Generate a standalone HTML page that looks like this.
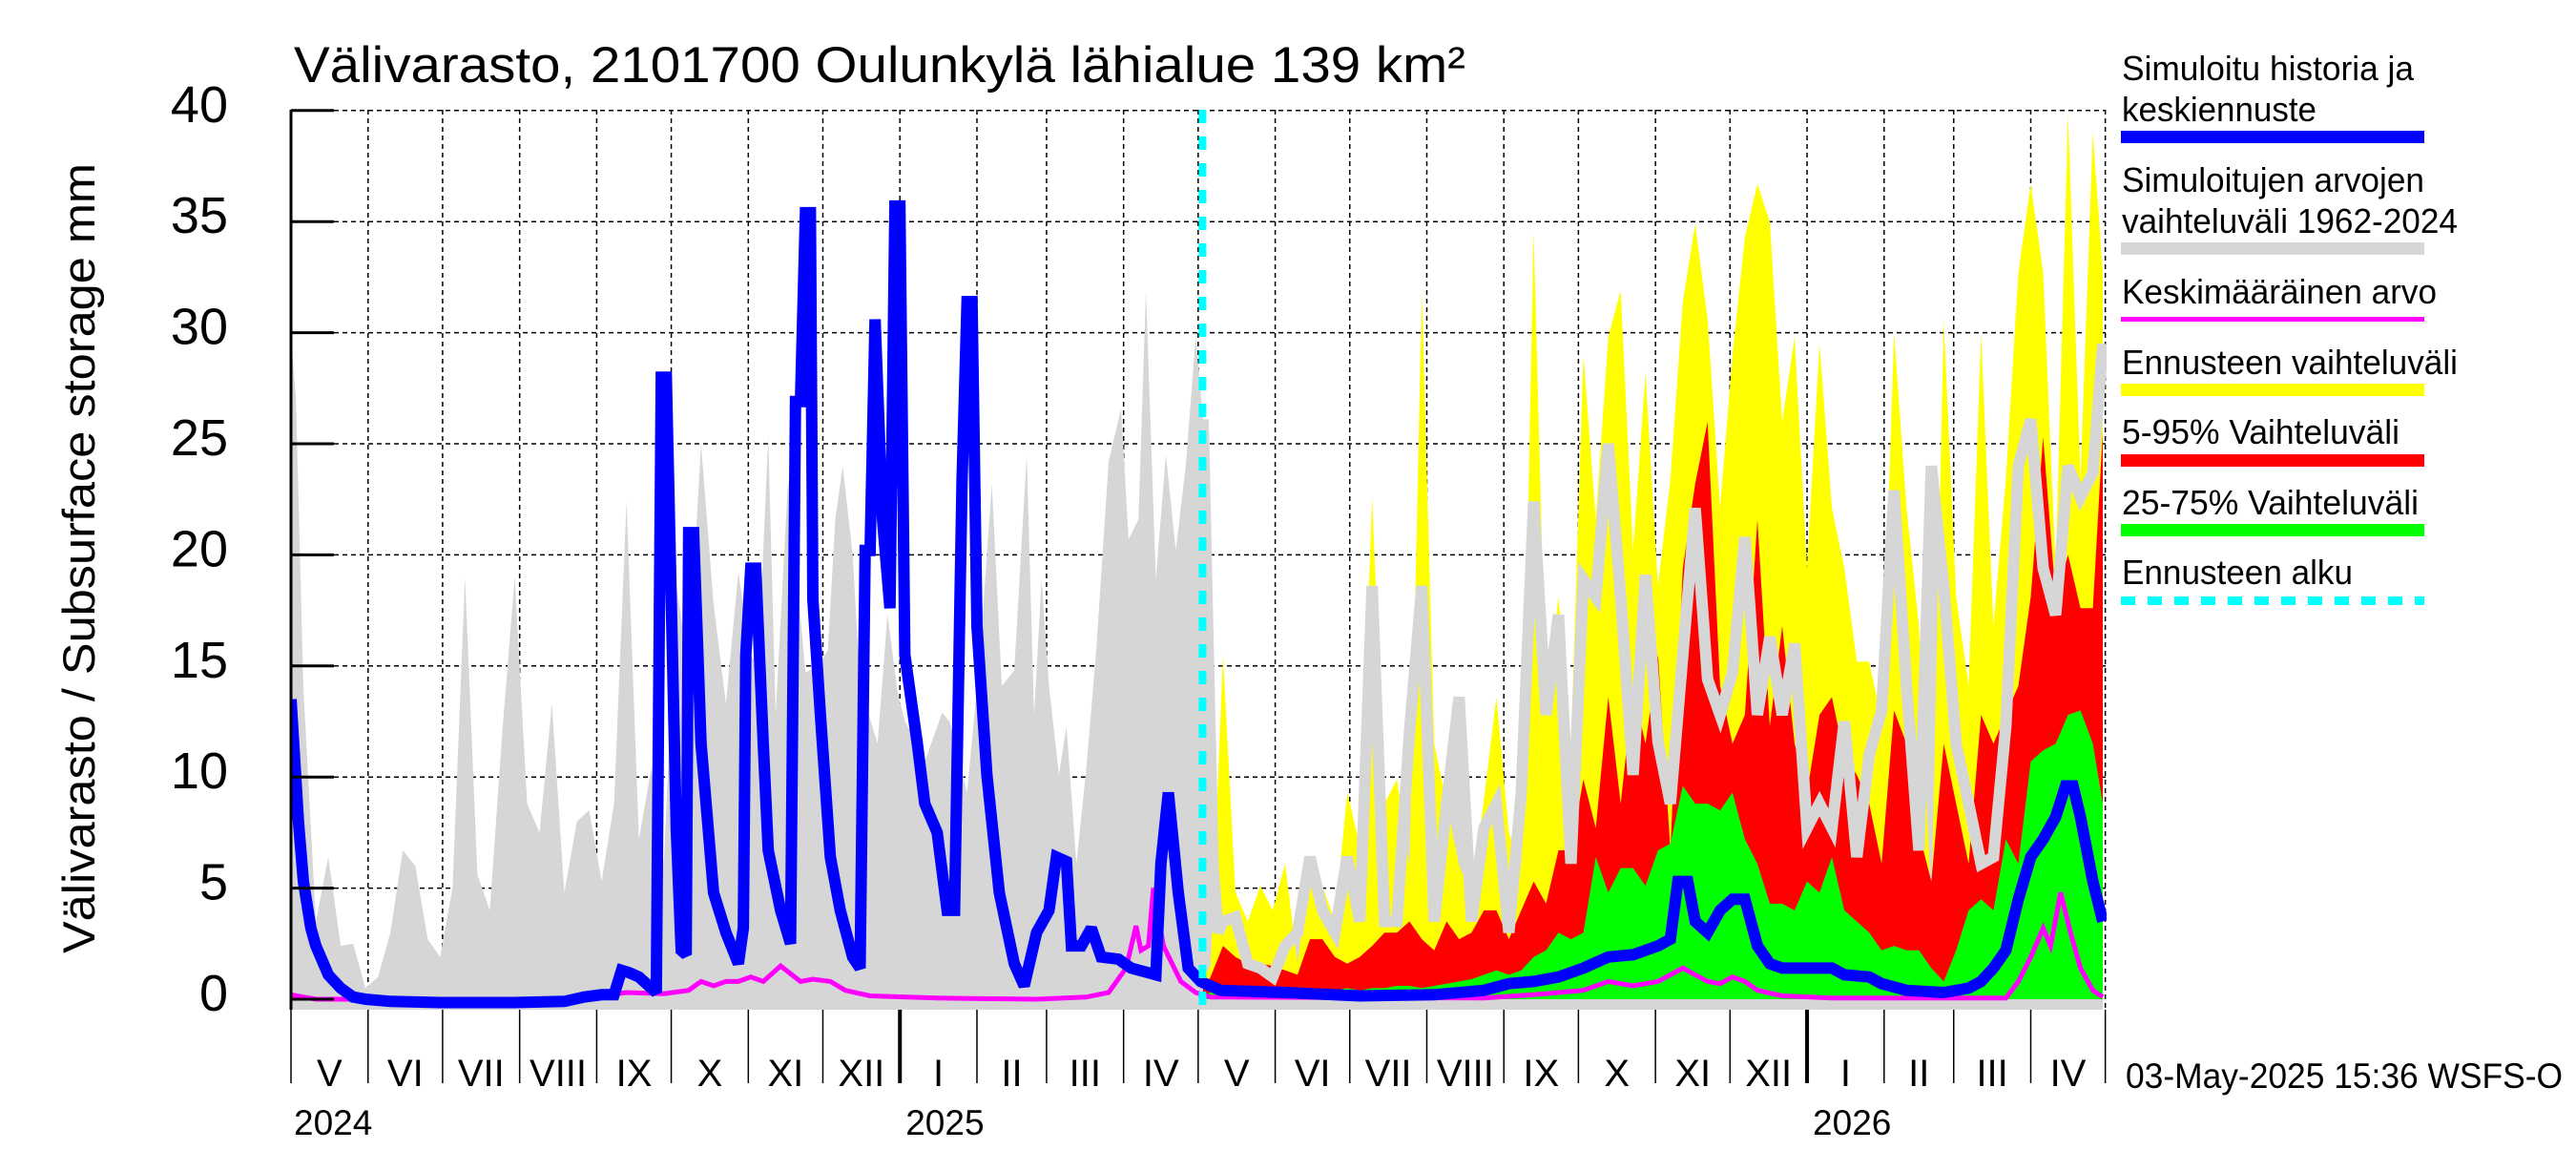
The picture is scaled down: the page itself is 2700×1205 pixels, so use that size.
<!DOCTYPE html>
<html><head><meta charset="utf-8"><style>
html,body{margin:0;padding:0;background:#fff;}
svg text{font-family:"Liberation Sans",sans-serif;fill:#000;}
</style></head><body>
<svg id="chart" width="2700" height="1200" viewBox="0 0 2700 1200" xmlns="http://www.w3.org/2000/svg">
<defs><clipPath id="pc"><rect x="305" y="110" width="1903" height="949"/></clipPath></defs>
<text x="308" y="86" font-size="53" textLength="1228" lengthAdjust="spacingAndGlyphs">Välivarasto, 2101700 Oulunkylä lähialue 139 km²</text>
<text transform="translate(99,585) rotate(-90)" text-anchor="middle" font-size="47" textLength="828" lengthAdjust="spacingAndGlyphs">Välivarasto / Subsurface storage  mm</text>
<g id="grid"></g>
<g id="series" clip-path="url(#pc)"></g>
<g id="axes"></g>
<g>
<text x="2224" y="84" font-size="36" textLength="306" lengthAdjust="spacingAndGlyphs">Simuloitu historia ja</text>
<text x="2224" y="127" font-size="36" textLength="204" lengthAdjust="spacingAndGlyphs">keskiennuste</text>
<rect x="2223" y="137" width="318" height="13" fill="#0000ff"/>
<text x="2224" y="201" font-size="36" textLength="317" lengthAdjust="spacingAndGlyphs">Simuloitujen arvojen</text>
<text x="2224" y="244" font-size="36" textLength="352" lengthAdjust="spacingAndGlyphs">vaihteluväli 1962-2024</text>
<rect x="2223" y="254" width="318" height="13" fill="#d6d6d6"/>
<text x="2224" y="318" font-size="36" textLength="330" lengthAdjust="spacingAndGlyphs">Keskimääräinen arvo</text>
<rect x="2223" y="332" width="318" height="5" fill="#ff00ff"/>
<text x="2224" y="392" font-size="36" textLength="352" lengthAdjust="spacingAndGlyphs">Ennusteen vaihteluväli</text>
<rect x="2223" y="402" width="318" height="13" fill="#ffff00"/>
<text x="2224" y="465" font-size="36" textLength="291" lengthAdjust="spacingAndGlyphs">5-95% Vaihteluväli</text>
<rect x="2223" y="476" width="318" height="13" fill="#ff0000"/>
<text x="2224" y="539" font-size="36" textLength="311" lengthAdjust="spacingAndGlyphs">25-75% Vaihteluväli</text>
<rect x="2223" y="549" width="318" height="13" fill="#00ff00"/>
<text x="2224" y="612" font-size="36" textLength="242" lengthAdjust="spacingAndGlyphs">Ennusteen alku</text>
<line x1="2223" y1="629.5" x2="2541" y2="629.5" stroke="#00ffff" stroke-width="9" stroke-dasharray="15 13"/>
</g>
<text x="2228" y="1140" font-size="37" textLength="458" lengthAdjust="spacingAndGlyphs">03-May-2025 15:36 WSFS-O</text>
</svg>
<script>
const blueDays=[0,3,5,8,10,15,20,25,30,40,60,90,110,118,125,130,133,136,140,145,147,149,151,155,157,159,160,162,165,170,175,180,182,183,185,187,190,192,197,201,203,205,207,209,210,213,217,221,226,229,231,233,235,238,241,243,245,247,252,255,260,264,267,270,272,274,276,280,285,291,295,300,305,308,312,314,318,322,326,333,338,348,350,353,357,361,366,374,400,430,460,480,490,500,510,520,530,540,550,555,558,562,565,570,575,580,585,590,595,600,610,620,625,635,640,650,665,675,680,685,690,695,700,705,710,714,717,720,725,729];
const blueVals=[13.5,8,5.3,3.2,2.4,1.1,0.5,0.1,0,-0.1,-0.15,-0.15,-0.1,0.1,0.2,0.2,1.3,1.2,1,0.5,0.3,28,28,7.7,2.2,2,21,21,11.5,4.8,3,1.6,3.2,15.5,19.4,19.4,11.5,6.7,4,2.5,26.9,26.9,35.4,35.4,18,12.8,6.4,4,1.9,1.4,20.2,20.2,30.6,21.6,17.6,35.7,35.7,15.5,11.5,8.8,7.5,4,4,23.4,31.4,31.4,16.8,10.1,4.8,1.6,0.6,3,4,6.4,6.2,2.4,2.4,3.2,1.9,1.8,1.4,1.1,6.1,9.3,4.8,1.4,0.8,0.4,0.3,0.15,0.2,0.4,0.7,0.8,1,1.4,1.9,2,2.4,2.7,5.3,5.3,3.5,3,4,4.5,4.5,2.4,1.6,1.4,1.4,1.4,1.1,1,0.7,0.4,0.3,0.5,0.8,1.4,2.2,4.5,6.4,7.2,8.2,9.6,9.6,8.2,5.3,3.5];
const grayDays=[0,2,5,10,15,20,25,30,35,40,45,50,55,60,65,70,75,80,85,90,95,100,105,110,115,120,125,130,135,140,145,150,155,160,165,170,175,180,185,188,192,195,200,207,212,216,219,222,226,229,236,240,244,247,252,255,262,265,272,277,282,286,291,296,299,302,305,309,312,316,320,324,329,334,337,341,344,348,352,356,360,364,367,369,371,373,375,380,385,390,395,400,405,410,415,420,425,430,435,440,445,450,455,460,465,470,475,480,485,490,495,500,505,510,515,520,525,530,535,540,545,550,555,560,565,570,575,580,585,590,595,600,605,610,615,620,625,630,635,640,645,650,655,660,665,670,675,680,685,690,695,700,705,710,715,720,725,729];
const grayVals=[29.8,27,14,3.5,6.4,2.4,2.5,0.5,1,3,6.7,6,2.7,1.9,5,19,5.6,4,12,19,8.8,7.5,13.3,4.8,8,8.5,5.3,8.8,22.4,7.2,10.4,6.1,18.6,15,25,17.8,13.3,19.2,15.5,15,25.3,12.8,23.4,14.7,15,15.7,21.6,24,20,14.1,11.5,17.3,13.9,12.5,11.5,10.7,12.9,12.5,9.3,15.2,23.2,14.1,14.8,24.5,12.8,18.9,14.1,10.1,12.3,6.1,10.4,15.7,24.2,26.6,20.7,21.6,31.9,18.9,24.5,20.2,24,29.8,26.1,16,6,3,3.5,3.7,1.6,1.4,1,2.4,3,6.4,4,3,6.4,3.5,18.6,3.5,3.5,12,18.6,3.5,8.8,13.6,3.5,7.7,8.8,3,9.3,22.4,12.8,17.3,6.1,18.9,18.1,25,18.1,10.1,19.1,11.6,8.8,15.5,22.1,14.4,12.8,14.7,20.8,12.8,16.3,12.8,16,7.7,8.8,7.7,12.5,6.4,11,13,22.9,14.1,6.7,24,18.6,11.5,8.8,6.1,6.4,12.3,24,26.1,19.4,17.3,24,22.6,23.7,29.5];
const fcDays=[367,370,375,380,385,390,395,400,405,410,415,420,425,430,435,440,445,450,455,460,465,470,475,480,485,490,495,500,505,510,515,520,525,530,535,540,545,550,555,560,565,570,575,580,585,590,595,600,605,610,615,620,625,630,635,640,645,650,655,660,665,670,675,680,685,690,695,700,705,710,715,720,725,729];
const yellowVals=[1,1.5,15.5,4.8,3.5,5.1,4,6.1,1.6,6,5.1,3.5,9.3,6.9,22.6,8.8,9.9,6,31.9,11.5,8.8,6,4.8,9,13.6,7.5,6,34.6,13.3,18.1,11.5,29,21.6,29.8,31.9,20.2,28.2,18.6,23.4,31.4,34.9,30.6,22.1,29,34.3,36.7,35,26,29.8,19.4,29.5,22.1,19.4,15.2,15.2,12.5,30,22.1,16.8,4,30.6,18.1,14.1,30,16.8,23.4,32.7,36.7,32.7,19.4,39.9,23.4,39,32.7];
const redVals=[0.5,1,2.4,1.9,1.6,1.6,1.5,1.3,1.1,2.7,2.7,1.9,1.6,1.9,2.4,3,3,3.5,2.7,2.2,3.5,2.7,3,4,4,2.7,4,5.3,4.3,6.7,6.7,9.9,7.7,13.6,8.8,14,11.5,15.5,6.7,19.4,23.2,26,14.1,11.5,12.8,21.6,12.3,16.8,11.5,9.3,12.8,13.6,10.9,10.1,8.8,6.1,13,11.5,7.5,5.3,11.5,8.8,6.1,12.8,11.5,12.8,14.1,18.1,25.3,18.1,20,17.6,17.6,25.5];
const greenVals=[0.2,0.3,0.5,0.6,0.4,0.4,0.4,0.3,0.4,0.5,0.4,0.4,0.5,0.4,0.5,0.5,0.6,0.6,0.5,0.6,0.7,0.8,0.9,1.1,1.3,1.1,1.3,1.9,2.2,3,2.7,3,6.4,4.8,5.9,5.9,5.1,6.7,7,9.6,8.8,8.8,8.5,9.3,7.2,6.1,4.3,4.3,4,5.3,4.8,6.4,4,3.5,3,2.2,2.4,2.2,2.2,1.4,0.8,2.2,4,4.5,4,7.2,6.1,10.7,11.2,11.5,12.8,13,11.5,8.8];
const meanDays=[0,5,10,60,100,120,135,150,160,165,170,175,180,185,190,197,205,210,217,223,233,260,300,320,329,336,340,342,345,347,351,358,364,370,480,500,510,520,530,540,550,555,560,565,570,575,580,585,590,600,620,690,695,700,705,708,712,716,720,725,729];
const meanVals=[0.2,0.1,0,0,0,0.1,0.3,0.25,0.4,0.8,0.6,0.8,0.8,1,0.8,1.5,0.8,0.9,0.8,0.4,0.15,0.05,0,0.1,0.3,1.4,3.3,2.2,2.4,5,2.4,0.8,0.3,0.1,0.05,0.2,0.3,0.4,0.8,0.6,0.8,1.1,1.4,1.1,0.8,0.7,1,0.8,0.4,0.15,0.05,0.05,0.8,1.9,3.2,2.4,4.8,3,1.4,0.4,0.1];
const yTicks=[0,5,10,15,20,25,30,35,40];
const monthLabels=["V","VI","VII","VIII","IX","X","XI","XII","I","II","III","IV","V","VI","VII","VIII","IX","X","XI","XII","I","II","III","IV"];
const yearLabels=["2024","2025","2026"];
const forecastStartDay=367;

const NS="http://www.w3.org/2000/svg";
const X0=305,PXD=2.605,Y0=1047,PXV=23.28,YBOT=1058;
function x(d){return X0+d*PXD;}
function y(v){return Y0-v*PXV;}
function mk(tag,attrs,parent){const e=document.createElementNS(NS,tag);for(const k in attrs)e.setAttribute(k,attrs[k]);parent.appendChild(e);return e;}
const grid=document.getElementById('grid'),series=document.getElementById('series'),axes=document.getElementById('axes');
const start=Date.UTC(2024,4,1);
const bounds=[];
for(let i=0;i<=24;i++){const dt=Date.UTC(2024,4+i,1);bounds.push({d:(dt-start)/86400000,m:new Date(dt).getUTCMonth()});}
// grid
yTicks.forEach(v=>{
  if(v===0)return;
  const l=mk('line',{x1:X0,x2:2207,y1:y(v),y2:y(v),stroke:'#000','stroke-width':1.5,'stroke-dasharray':'5 4'},grid);
  
  
});
bounds.forEach((b,i)=>{
  if(i===0)return;
  const l=mk('line',{x1:x(b.d),x2:x(b.d),y1:115,y2:YBOT,stroke:'#000','stroke-width':1.5,'stroke-dasharray':'5 4'},grid);
  
  
});
function areaPath(days,vals,base){let p='M'+x(days[0])+','+base;days.forEach((d,i)=>{p+=' L'+x(d).toFixed(1)+','+y(vals[i]).toFixed(1);});p+=' L'+x(days[days.length-1])+','+base+' Z';return p;}
function linePts(days,vals,from){const pts=[];days.forEach((d,i)=>{if(from===undefined||d>=from)pts.push(x(d).toFixed(1)+','+y(vals[i]).toFixed(1));});return pts.join(' ');}
let e;
e=mk('path',{d:areaPath(grayDays,grayVals,YBOT),fill:'#d6d6d6'},series);


e=mk('path',{d:areaPath(fcDays,yellowVals,Y0),fill:'#ffff00'},series);


e=mk('path',{d:areaPath(fcDays,redVals,Y0),fill:'#ff0000'},series);


e=mk('path',{d:areaPath(fcDays,greenVals,Y0),fill:'#00ff00'},series);


e=mk('polyline',{points:linePts(grayDays,grayVals,forecastStartDay),fill:'none',stroke:'#d6d6d6','stroke-width':12,'stroke-linejoin':'miter'},series);


e=mk('polyline',{points:linePts(meanDays,meanVals),fill:'none',stroke:'#ff00ff','stroke-width':5},series);


e=mk('polyline',{points:linePts(blueDays,blueVals),fill:'none',stroke:'#0000ff','stroke-width':12,'stroke-linejoin':'miter','stroke-miterlimit':2},series);


e=mk('line',{x1:x(forecastStartDay-1)+2,x2:x(forecastStartDay-1)+2,y1:115,y2:YBOT,stroke:'#00ffff','stroke-width':8,'stroke-dasharray':'14 14'},series);


// axes
e=mk('line',{x1:X0,x2:X0,y1:115,y2:YBOT,stroke:'#000','stroke-width':3},axes);


yTicks.forEach(v=>{
  const t=mk('line',{x1:X0,x2:350,y1:y(v),y2:y(v),stroke:'#000','stroke-width':3},axes);
  
  
  const tx=mk('text',{x:239,y:y(v)+12,'text-anchor':'end','font-size':54},axes);
  tx.textContent=String(v);
  
  
});
bounds.forEach((b,i)=>{
  const isJan=b.m===0;
  const t=mk('line',{x1:x(b.d),x2:x(b.d),y1:YBOT,y2:1135,stroke:'#000','stroke-width':isJan?4:1.5},axes);
  
  
  if(i<24){
    const lb=mk('text',{x:(x(b.d)+x(bounds[i+1].d))/2,y:1138,'text-anchor':'middle','font-size':40},axes);
    lb.textContent=monthLabels[i];
    
    
  }
});
const yearStarts=[0,bounds[8].d,bounds[20].d];
yearLabels.forEach((yl,i)=>{
  const t=mk('text',{x:x(yearStarts[i])+(i===0?3:6),y:1189,'font-size':37},axes);
  t.textContent=yl;
  
  
});
</script>
</body></html>
